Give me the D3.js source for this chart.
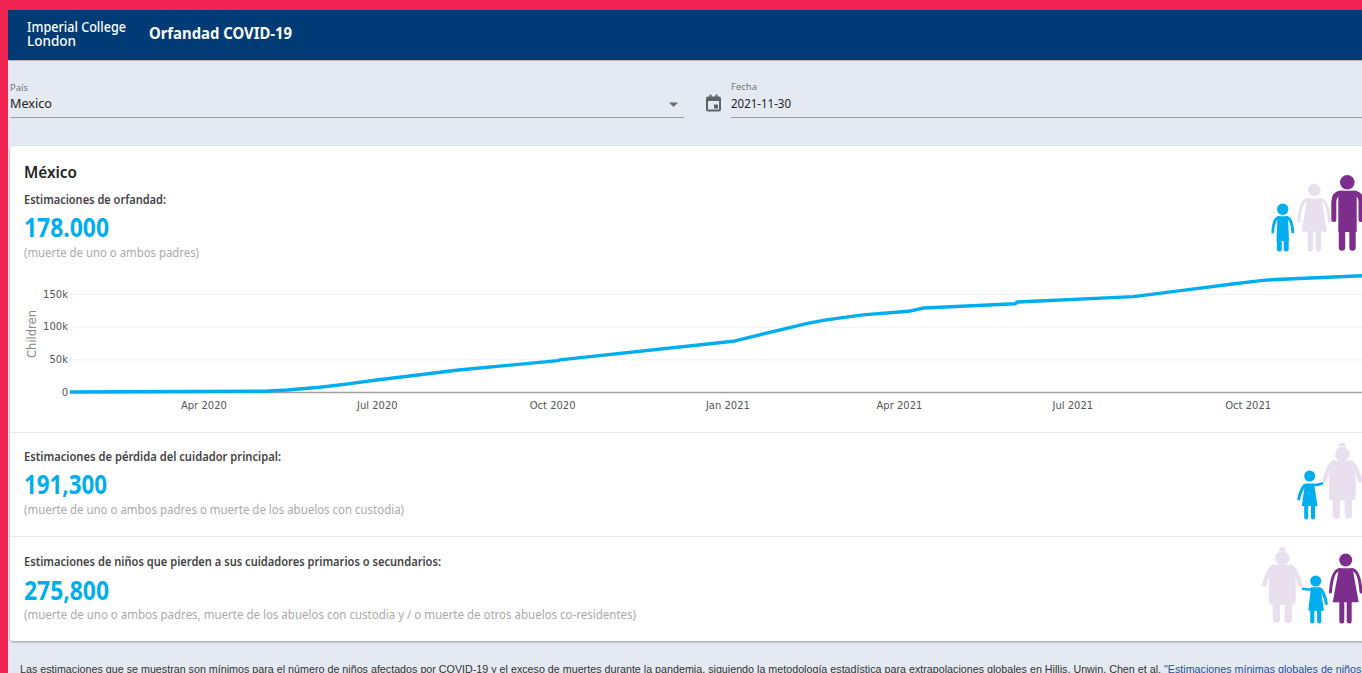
<!DOCTYPE html>
<html>
<head>
<meta charset="utf-8">
<title>Orfandad COVID-19</title>
<script src="https://cdn.jsdelivr.net/npm/d3@7"></script>
<style>
  html, body { margin: 0; padding: 0; background: #e4e9f2; overflow: hidden; }
  svg { display: block; }
  text { font-family: "Noto Sans", sans-serif; }
  .axis text { font-family: "DejaVu Sans", sans-serif; font-size: 10px; fill: #555; }
</style>
</head>
<body>
<div id="chart"></div>
<script>
// values
var dates = ["2020-01-22", "2020-05-03", "2020-05-15", "2020-06-01", "2020-06-15", "2020-07-01", "2020-08-13", "2020-10-04", "2020-10-05",
    "2021-01-04", "2021-02-12", "2021-02-21", "2021-03-13", "2021-04-06", "2021-04-14", "2021-06-01", "2021-06-02",
    "2021-08-02", "2021-09-01", "2021-09-22", "2021-10-09", "2021-10-16", "2021-11-30"];
var children = [0, 1200, 3000, 7200, 12000, 18400, 33700, 48000, 49200,
    77600, 105000, 110000, 118000, 123500, 128600, 135000, 137700,
    146000, 157000, 165000, 170800, 172300, 178000];
var xTicks = ["2020-04-01", "2020-07-01", "2020-10-01", "2021-01-01", "2021-04-01", "2021-07-01", "2021-10-01"];
var yTicks = [0, 50000, 100000, 150000];

var blocks = ["Estimaciones de orfandad:", "Estimaciones de pérdida del cuidador principal:",
    "Estimaciones de niños que pierden a sus cuidadores primarios o secundarios:"];
var blockValues = ["178.000", "191,300", "275,800"];
var blockNotes = ["(muerte de uno o ambos padres)", "(muerte de uno o ambos padres o muerte de los abuelos con custodia)",
    "(muerte de uno o ambos padres, muerte de los abuelos con custodia y / o muerte de otros abuelos co-residentes)"];

var blue = "#00aeef", pale = "#e9e0ef", purple = "#7d2e8d";
var W = 1362, H = 673;
var parse = d3.utcParse("%Y-%m-%d");

var svg = d3.select("#chart").append("svg").attr("width", W).attr("height", H);

var defs = svg.append("defs");
var shadow = defs.append("filter").attr("id", "shadow").attr("x", "-2%").attr("y", "-2%").attr("width", "104%").attr("height", "104%");
shadow.append("feDropShadow").attr("dx", 0).attr("dy", 1).attr("stdDeviation", 1.2).attr("flood-color", "#000").attr("flood-opacity", 0.35);

function label(str, x, y, size, color, weight, len) {
    var t = svg.append("text").attr("x", x).attr("y", y)
        .attr("font-size", size).attr("fill", color).attr("font-weight", weight || 400).text(str);
    if (len) t.attr("textLength", len).attr("lengthAdjust", "spacingAndGlyphs");
    return t;
}

// page frame and header
svg.append("rect").attr("x", 8).attr("y", 10).attr("width", W).attr("height", 50).attr("fill", "#003a75").attr("filter", "url(#shadow)");
svg.append("rect").attr("width", W).attr("height", 10).attr("fill", "#f02252");
svg.append("rect").attr("width", 8).attr("height", H).attr("fill", "#f02252");

var logo = svg.append("text").attr("font-size", 14.5).attr("fill", "#fff").attr("font-weight", 500);
logo.append("tspan").attr("x", 27).attr("y", 32).attr("textLength", 99).attr("lengthAdjust", "spacingAndGlyphs").text("Imperial College");
logo.append("tspan").attr("x", 27).attr("y", 46).attr("textLength", 49).attr("lengthAdjust", "spacingAndGlyphs").text("London");
label("Orfandad COVID-19", 149, 39, 16.5, "#fff", 700, 143);

// filters
label("País", 10, 91, 9.5, "#777", 400, 18);
label("Mexico", 10, 108, 13, "#222", 400, 42);
svg.append("line").attr("x1", 10).attr("x2", 684).attr("y1", 117.5).attr("y2", 117.5).attr("stroke", "#9a9a9f");
svg.append("path").attr("d", "M669,102.5h9l-4.5,4.5z").attr("fill", "#6a6a6a");

var cal = svg.append("g").attr("transform", "translate(706,94.5)").attr("fill", "#5f6368");
cal.append("path").attr("fill-rule", "evenodd")
    .attr("d", "M2,2H3.5V0H5.5V2H9.5V0H11.5V2H13A2,2 0 0 1 15,4V15A2,2 0 0 1 13,17H2A2,2 0 0 1 0,15V4A2,2 0 0 1 2,2ZM2,6.5V15H13V6.5Z");
cal.append("rect").attr("x", 8).attr("y", 10).attr("width", 4).attr("height", 4);
label("Fecha", 731, 90, 9.5, "#777", 400, 26);
label("2021-11-30", 731, 108, 13, "#222", 400, 60);
svg.append("line").attr("x1", 731).attr("x2", W).attr("y1", 117.5).attr("y2", 117.5).attr("stroke", "#9a9a9f");

// card
svg.append("rect").attr("x", 10).attr("y", 146).attr("width", W).attr("height", 495).attr("rx", 4).attr("fill", "#fff").attr("filter", "url(#shadow)");
svg.append("line").attr("x1", 10).attr("x2", W).attr("y1", 432.5).attr("y2", 432.5).attr("stroke", "#e6e6e6");
svg.append("line").attr("x1", 10).attr("x2", W).attr("y1", 536.5).attr("y2", 536.5).attr("stroke", "#e6e6e6");

label("México", 24, 178, 16.5, "#222", 600, 53);

var heads = [204, 461, 566], bigs = [237, 494, 600], notes = [257, 514, 619];
var headLen = [142, 257, 417], bigLen = [85, 83, 85], noteLen = [175, 380, 612];
blocks.forEach(function(d, i) {
    label(d, 24, heads[i], 12, "#444", 600, headLen[i]);
    label(blockValues[i], 24, bigs[i], 26, blue, 700, bigLen[i]);
    label(blockNotes[i], 24, notes[i], 12, "#aaa", 400, noteLen[i]);
});

// chart
var xScale = d3.scaleUtc().domain([parse(dates[0]), parse(dates[dates.length - 1])]).range([70, W]);
var yScale = d3.scaleLinear().domain([0, 150000]).range([392, 294]);

svg.append("g").selectAll("line").data(yTicks.slice(1)).enter().append("line")
    .attr("x1", 70).attr("x2", W)
    .attr("y1", function(d) { return yScale(d) + 0.5; }).attr("y2", function(d) { return yScale(d) + 0.5; })
    .attr("stroke", "#f1f1f1");

var xAxis = svg.append("g").attr("class", "axis").attr("transform", "translate(0,392)")
    .call(d3.axisBottom(xScale).tickValues(xTicks.map(parse)).tickFormat(d3.utcFormat("%b %Y")).tickSize(0).tickPadding(10));
xAxis.select("path").remove();
svg.append("line").attr("x1", 70).attr("x2", W).attr("y1", 392.5).attr("y2", 392.5).attr("stroke", "#a0a0a0").attr("stroke-width", 1.5);

var yAxis = svg.append("g").attr("class", "axis").attr("transform", "translate(70,0)")
    .call(d3.axisLeft(yScale).tickValues(yTicks).tickFormat(d3.format("~s")).tickSize(0).tickPadding(2));
yAxis.select("path").remove();

svg.append("text").attr("transform", "translate(36,334) rotate(-90)").attr("text-anchor", "middle")
    .style("font-family", "'DejaVu Sans', sans-serif").attr("font-size", 11.5).attr("fill", "#888").text("Children");

var valueLine = d3.line()
    .x(function(d, i) { return xScale(parse(d)); })
    .y(function(d, i) { return yScale(children[i]); })
    .curve(d3.curveLinear);
svg.append("path").datum(dates).attr("d", valueLine).attr("fill", "none").attr("stroke", blue)
    .attr("stroke-width", 3.4).attr("stroke-linejoin", "round");

// little people on the right of the card
function limb(g, d, w) {
    g.append("path").attr("d", d).attr("fill", "none").attr("stroke", g.attr("fill"))
        .attr("stroke-width", w).attr("stroke-linecap", "round").attr("stroke-linejoin", "round");
}
function person(color) { return svg.append("g").attr("fill", color); }
function head(g, x, y, r) { g.append("circle").attr("cx", x).attr("cy", y).attr("r", r); }

// first row: boy, mother, father
var boy = person(blue);
head(boy, 1282.7, 209.3, 5.7);
boy.append("path").attr("d", "M1277.5,216.3H1288L1289,241H1276.5Z");
limb(boy, "M1279,217.5Q1273.5,218 1272.8,232", 2.8);
limb(boy, "M1286.5,217.5Q1292,218 1292.7,232", 2.8);
limb(boy, "M1279.3,240V249", 5);
limb(boy, "M1286.2,240V249", 5);

var mum = person(pale);
head(mum, 1314.3, 190, 6.3);
mum.append("path").attr("d", "M1307,198.5H1321.5L1327,231.7H1301.7Z");
limb(mum, "M1308,199.5Q1300.5,200 1298.8,221", 3);
limb(mum, "M1320.5,199.5Q1328,200 1329.5,221", 3);
limb(mum, "M1310.3,232V249", 5.4);
limb(mum, "M1318.3,232V249", 5.4);

var dad = person(purple);
head(dad, 1347.3, 182.3, 7.3);
dad.append("path").attr("d", "M1338.3,190.7H1356.7V232H1338.3Z");
limb(dad, "M1341,193.2Q1334,193.5 1333.8,202V219.5", 5);
limb(dad, "M1354,193.2Q1361,193.5 1361,202V219.5", 5);
limb(dad, "M1342,228V247.5", 6.4);
limb(dad, "M1352.5,228V247.5", 6.4);

// second row: child with grandmother
function granny(x, y) {
    var g = person(pale);
    head(g, x, y - 8, 3.2);
    g.append("circle").attr("cx", x).attr("cy", y).attr("r", 7.5).attr("stroke", "#fff").attr("stroke-width", 0.6);
    g.append("path").attr("d", "M" + (x - 9) + "," + (y + 6.5) + "H" + (x + 9) + "Q" + (x + 13.5) + "," + (y + 14) + " " + (x + 13.5) + "," + (y + 26)
        + "V" + (y + 42) + "Q" + (x + 13.5) + "," + (y + 46.5) + " " + (x + 9) + "," + (y + 46.5) + "H" + (x - 9)
        + "Q" + (x - 13.5) + "," + (y + 46.5) + " " + (x - 13.5) + "," + (y + 42) + "V" + (y + 26) + "Q" + (x - 13.5) + "," + (y + 14) + " " + (x - 9) + "," + (y + 6.5) + "Z");
    limb(g, "M" + (x - 9) + "," + (y + 8.5) + "Q" + (x - 14) + "," + (y + 12) + " " + (x - 18) + "," + (y + 26.5), 4.4);
    limb(g, "M" + (x + 9) + "," + (y + 8.5) + "Q" + (x + 14) + "," + (y + 12) + " " + (x + 18) + "," + (y + 26.5), 4.4);
    limb(g, "M" + (x - 6) + "," + (y + 45) + "V" + (y + 61), 7.4);
    limb(g, "M" + (x + 6) + "," + (y + 45) + "V" + (y + 61), 7.4);
}
granny(1342.3, 454);
var girl = person(blue);
head(girl, 1309.7, 476, 5.5);
girl.append("path").attr("d", "M1305,483.5H1314L1317.5,506H1301.8Z");
limb(girl, "M1304.5,485.5Q1300,491 1298.8,499", 3);
limb(girl, "M1314,485Q1318,485 1322,483.5", 2.6);
limb(girl, "M1306.2,506V517.5", 4);
limb(girl, "M1313,506V517.5", 4);

// third row: grandmother, child, mother
granny(1282.3, 558.3);
var kid = person(blue);
head(kid, 1315.7, 581, 5.5);
kid.append("path").attr("d", "M1311,587.3H1320.5L1324,610.7H1308.3Z");
limb(kid, "M1311,589.3Q1307,590 1303,588.8", 2.6);
limb(kid, "M1321,589.5Q1325,595 1326.3,603.5", 3);
limb(kid, "M1312.3,610V621.5", 4.2);
limb(kid, "M1319.2,610V621.5", 4.2);
var mum2 = person(purple);
head(mum2, 1345.7, 560, 6.5);
mum2.append("path").attr("d", "M1339,568.3H1352.5L1358.7,602.3H1332.7Z");
limb(mum2, "M1339.5,569.5Q1332,570.5 1330.5,592", 3);
limb(mum2, "M1352,569.5Q1359.5,570.5 1361,592", 3);
limb(mum2, "M1341.8,602V621", 5);
limb(mum2, "M1349.2,602V621", 5);

// footer, runs off the page
var foot = svg.append("text").attr("x", 20).attr("y", 672.5).attr("font-size", 10.73).attr("fill", "#333")
    .style("font-family", "'Liberation Sans', sans-serif");
foot.append("tspan").text("Las estimaciones que se muestran son mínimos para el número de niños afectados por COVID-19 y el exceso de muertes durante la pandemia, siguiendo la metodología estadística para extrapolaciones globales en Hillis, Unwin, Chen et al. ");
foot.append("tspan").attr("fill", "#1f4e9c").text("\"Estimaciones mínimas globales de niños");
</script>
</body>
</html>
